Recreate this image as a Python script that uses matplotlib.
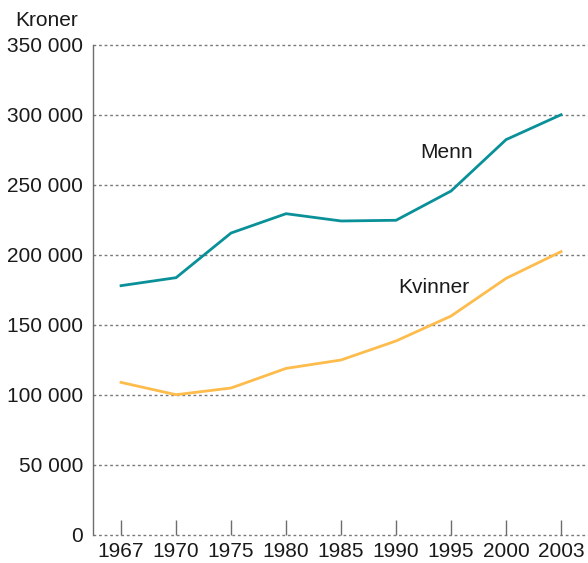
import matplotlib
matplotlib.use("Agg")
import matplotlib.pyplot as plt

plt.rcParams['font.family'] = ['Liberation Sans', 'DejaVu Sans']

years = ["1967", "1970", "1975", "1980", "1985", "1990", "1995", "2000", "2003"]
menn = [178100, 183800, 215700, 229500, 224300, 224800, 245700, 282400, 300200]
kvinner = [109000, 100200, 105000, 119000, 125000, 138600, 156400, 183300, 202400]
yticks = [0, 50000, 100000, 150000, 200000, 250000, 300000, 350000]

teal = "#0A9099"
orange = "#FDBC4C"
grey = "#7a7a7a"
fs = 15

fig = plt.figure(figsize=(5.88, 5.63), dpi=100)
ax = fig.add_axes([93/588, 1 - 535/563, (588-93)/588, (535-45)/563])

x = range(len(years))
ax.plot(x, menn, color=teal, lw=2.0, solid_joinstyle='miter')
ax.plot(x, kvinner, color=orange, lw=2.0, solid_joinstyle='miter')

ax.set_xlim(-0.51, 8.49)
ax.set_ylim(0, 350000)

# dotted grid lines, including the baseline
for v in yticks:
    ax.axhline(v, color=grey, lw=1.0, ls=(0, (2, 2)), zorder=0, clip_on=False)

ax.set_yticks(yticks)
ax.set_yticklabels(["0" if v == 0 else "{:,}".format(v).replace(",", " ") for v in yticks])
ax.set_xticks(list(x))
ax.set_xticklabels(years)

for s in ["top", "right", "bottom"]:
    ax.spines[s].set_visible(False)
ax.spines["left"].set_color("#6d6d6d")
ax.spines["left"].set_linewidth(1.0)

ax.tick_params(axis="y", length=0, pad=7, labelsize=fs, labelcolor="#1a1a1a")
ax.tick_params(axis="x", direction="in", length=11, width=1.0, color="#6d6d6d",
               pad=5, labelsize=fs, labelcolor="#1a1a1a")

ax.text(5.44, 273500, "Menn", fontsize=fs, color="#1a1a1a", va="center")
ax.text(5.04, 177000, "Kvinner", fontsize=fs, color="#1a1a1a", va="center")

fig.text(15/588, 1 - 20/563, "Kroner", fontsize=fs, color="#1a1a1a", va="center")

fig.savefig("out.png", dpi=100)
